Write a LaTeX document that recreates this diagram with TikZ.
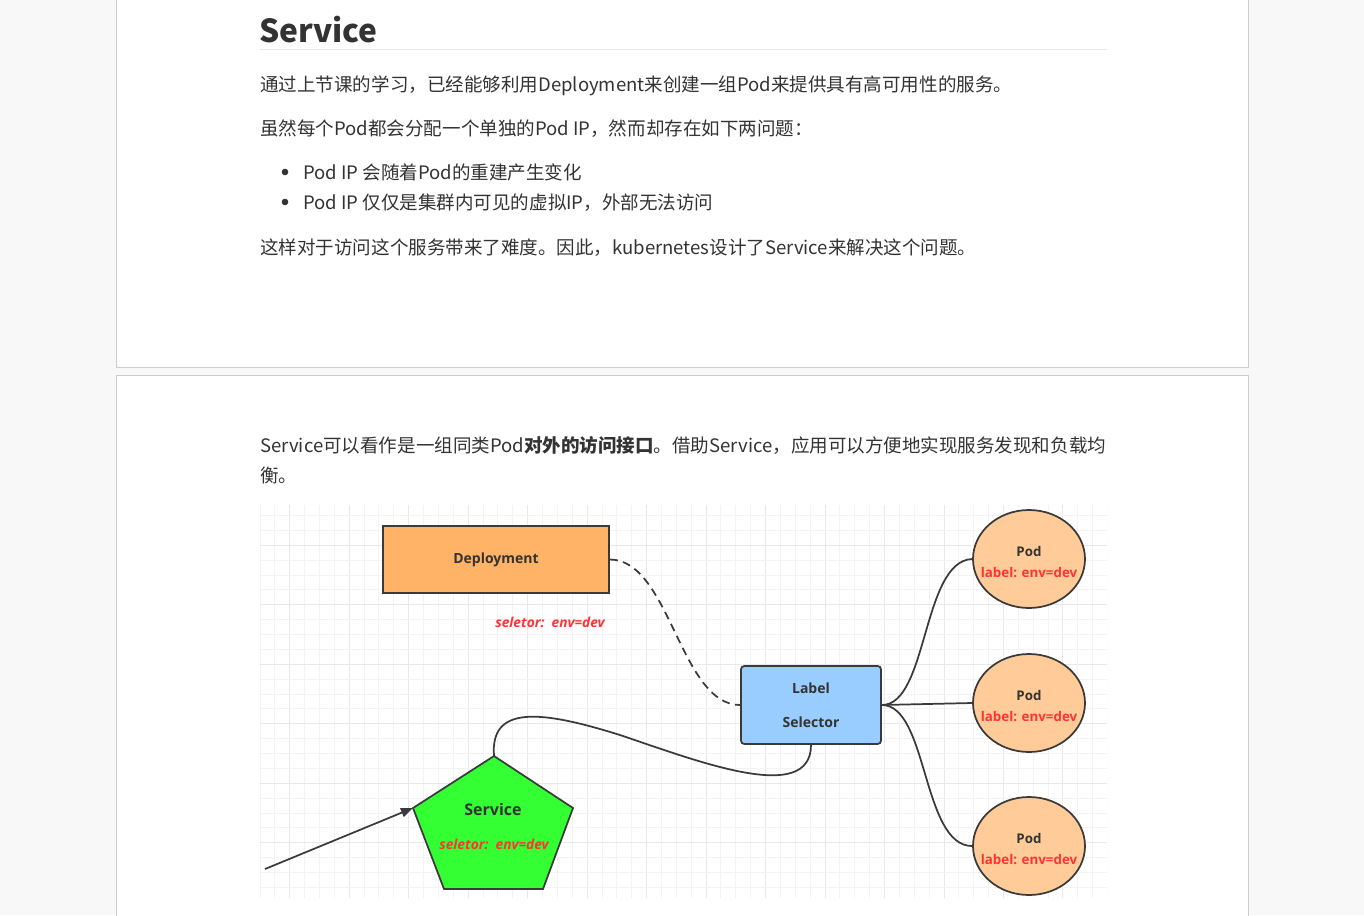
\documentclass[tikz,border=0pt]{standalone}
\usepackage{fontspec}
\usetikzlibrary{arrows.meta,shapes.geometric}
\setmainfont{Noto Sans CJK SC}
\newfontfamily\cjk{Noto Sans CJK SC}
\newfontfamily\dia{Open Sans}
\definecolor{pagebg}{HTML}{F8F8F8}
\definecolor{panelline}{HTML}{CCCCCC}
\definecolor{txt}{HTML}{333333}
\definecolor{gridminor}{HTML}{F3F3F3}
\definecolor{gridmajor}{HTML}{E9E9E9}
\definecolor{deporange}{HTML}{FFB366}
\definecolor{lsblue}{HTML}{99CCFF}
\definecolor{podfill}{HTML}{FFCC99}
\definecolor{svcgreen}{HTML}{33FF33}
\definecolor{redtxt}{HTML}{FF3333}
\definecolor{linec}{HTML}{3A3A3A}
\tikzset{
  panel/.style={fill=white, draw=panelline, line width=0.75pt},
  para/.style={anchor=base west, inner sep=0pt, text=txt, font=\cjk\fontsize{13.9pt}{17pt}\selectfont},
  boxnode/.style={draw=linec, line width=1.3pt, inner sep=0pt, text=txt, font=\dia\bfseries\fontsize{10.5pt}{13pt}\selectfont},
  podnode/.style={ellipse, draw=linec, line width=1.3pt, fill=podfill, minimum width=84pt, minimum height=73.5pt, inner sep=0pt},
  podtext/.style={inner sep=0pt, align=center, text=txt, font=\dia\bfseries\fontsize{10pt}{16pt}\selectfont},
  redlab/.style={text=redtxt, font=\dia\bfseries\itshape\fontsize{10.3pt}{12pt}\selectfont, inner sep=0pt},
  conn/.style={draw=linec, line width=1.3pt},
}
\begin{document}
\begin{tikzpicture}[x=0.75pt,y=-0.75pt]
\useasboundingbox (0,0) rectangle (1364,915);
\fill[pagebg] (0,0) rectangle (1364,915);
% panels
\draw[panel] (116,-5) -- (116,367) -- (1248,367) -- (1248,-5);
\draw[panel] (116,920) -- (116,375) -- (1248,375) -- (1248,920);
% heading
\node[anchor=base west, inner sep=0pt, text=txt, font=\cjk\bfseries\fontsize{23.8pt}{30pt}\selectfont] (h) at (259,42) {Service};
\draw[draw=gridmajor, line width=1pt] (260,49.5) -- (1107,49.5);
% paragraphs
\node[para] (p1) at (260,91) {通过上节课的学习，已经能够利用Deployment来创建一组Pod来提供具有高可用性的服务。};
\node[para] (p2) at (260,135) {虽然每个Pod都会分配一个单独的Pod IP，然而却存在如下两问题：};
\fill[txt] (285,172) circle (3.3);
\node[para] (b1) at (303,179) {Pod IP 会随着Pod的重建产生变化};
\fill[txt] (285,202) circle (3.3);
\node[para] (b2) at (303,209) {Pod IP 仅仅是集群内可见的虚拟IP，外部无法访问};
\node[para] (p3) at (260,254) {这样对于访问这个服务带来了难度。因此，kubernetes设计了Service来解决这个问题。};
\node[para] (p4) at (260,452) {Service可以看作是一组同类Pod{\bfseries 对外的访问接口}。借助Service，应用可以方便地实现服务发现和负载均};
\node[para] (p5) at (260,482) {衡。};
% grid
\begin{scope}
\clip (260,505) rectangle (1107,898);
\foreach \k in {0,...,57} {
  \pgfmathsetmacro{\xx}{260+14.87*\k}
  \pgfmathtruncatemacro{\mm}{mod(\k,4)}
  \ifnum\mm=2 \draw[gridmajor, line width=0.75pt] (\xx,505) -- (\xx,898);
  \else \draw[gridminor, line width=0.75pt] (\xx,505) -- (\xx,898); \fi
}
\foreach \k in {-1,...,26} {
  \pgfmathsetmacro{\yy}{515.6+14.87*\k}
  \pgfmathtruncatemacro{\mm}{mod(\k+4,4)}
  \ifnum\mm=2 \draw[gridmajor, line width=0.75pt] (260,\yy) -- (1107,\yy);
  \else \draw[gridminor, line width=0.75pt] (260,\yy) -- (1107,\yy); \fi
}
\end{scope}
% nodes
\node[boxnode, fill=deporange, minimum width=169.5pt, minimum height=50.25pt] (dep) at (496,559.5) {\raisebox{-1pt}{Deployment}};
\node[redlab] (depsel) at (550,622) {seletor:\ \ env=dev};
\node[boxnode, fill=lsblue, rounded corners=2.5pt, minimum width=105pt, minimum height=58.5pt, align=center, font=\dia\bfseries\fontsize{10.5pt}{25.5pt}\selectfont] (ls) at (811,705) {Label\\Selector};
\node[podnode] (pod1) at (1029,559) {};
\node[podnode] (pod2) at (1029,703) {};
\node[podnode] (pod3) at (1029,846) {};
\node[podtext] (pod1t) at (1029,562) {Pod\\{\color{redtxt}label: env=dev}};
\node[podtext] (pod2t) at (1029,706) {Pod\\{\color{redtxt}label: env=dev}};
\node[podtext] (pod3t) at (1029,849) {Pod\\{\color{redtxt}label: env=dev}};
% service pentagon
\coordinate (svcT) at (494,756);
\coordinate (svcL) at (413,808);
\coordinate (svcR) at (573,808);
\coordinate (svcBR) at (543,889);
\coordinate (svcBL) at (444,889);
\draw[draw=linec, line width=1.3pt, fill=svcgreen, line join=miter] (svcT) -- (svcR) -- (svcBR) -- (svcBL) -- (svcL) -- cycle;
\node[inner sep=0pt, text=txt, font=\dia\bfseries\fontsize{12pt}{14pt}\selectfont] (svc) at (493,809) {Service};
\node[redlab] (svcsel) at (494,844) {seletor:\ \ env=dev};
% connectors
\coordinate (client) at (265,869);
\draw[conn, -{Triangle[length=9pt,width=7pt]}] (client) -- (svcL);
\draw[conn, dash pattern=on 6pt off 4pt] (dep.east) .. controls +(60,0) and +(-60,0) .. (ls.west);
\coordinate (mid) at (620,735);
\draw[conn] (svcT) .. controls (490,705) and (540,710) .. (mid) .. controls (700,762) and (811,805) .. (ls.south);
\draw[conn] (ls.east) .. controls (928,705) and (922,561) .. (pod1.west);
\draw[conn] (ls.east) -- (pod2.west);
\draw[conn] (ls.east) .. controls (928,705) and (922,846) .. (pod3.west);
\end{tikzpicture}
\end{document}
